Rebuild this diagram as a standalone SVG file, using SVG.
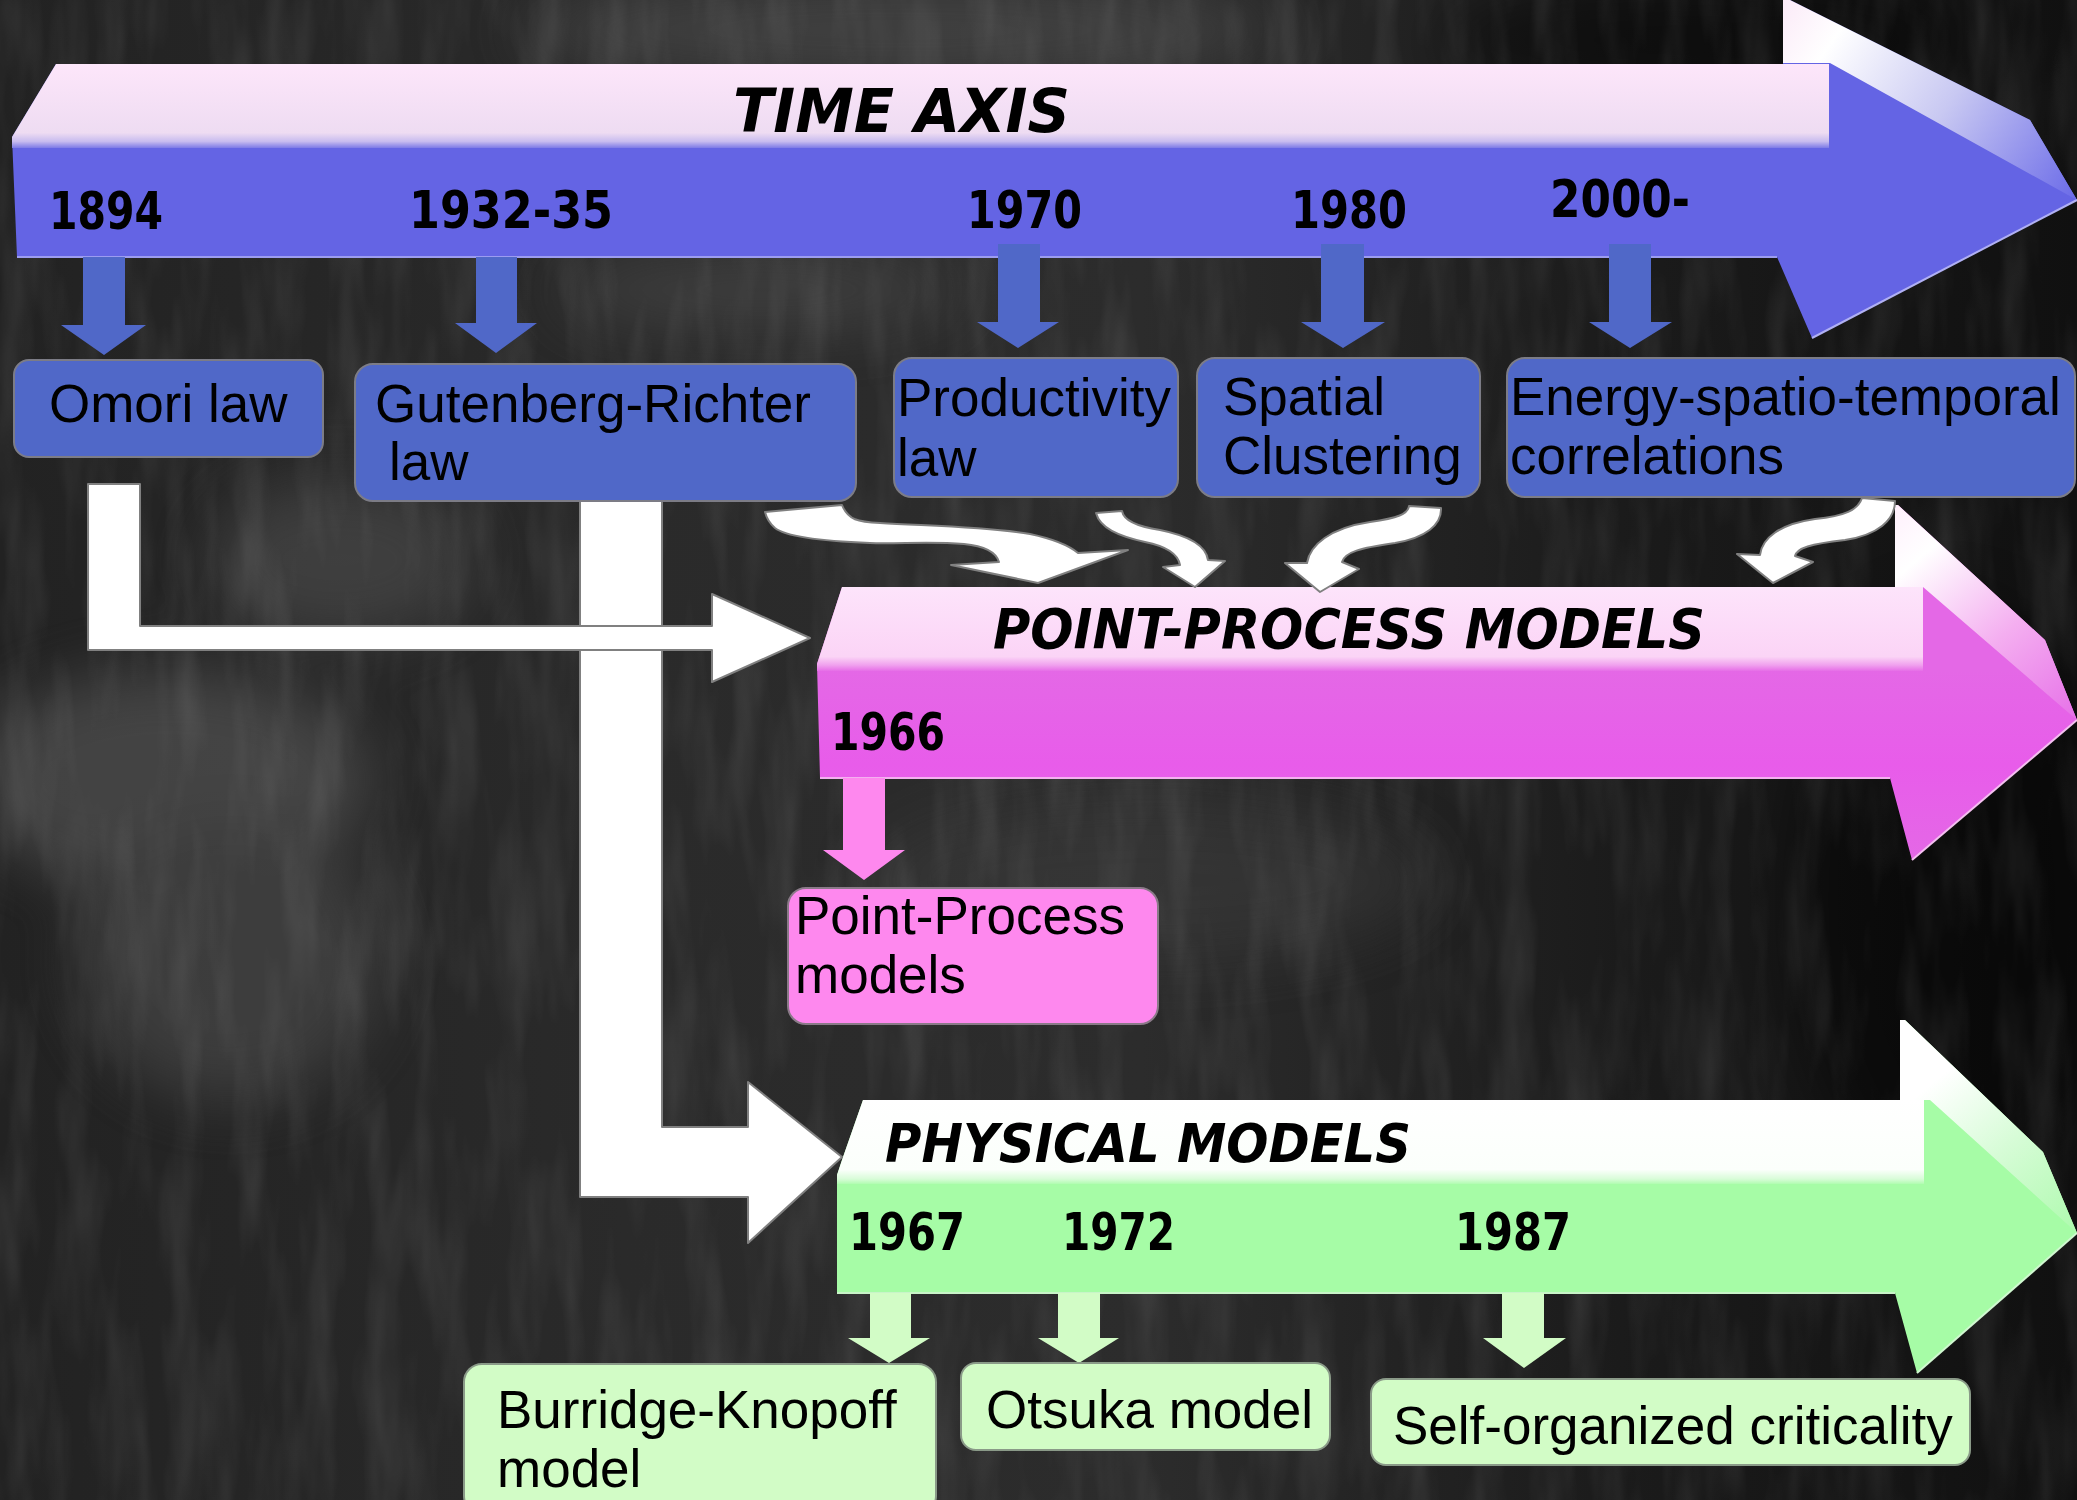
<svg xmlns="http://www.w3.org/2000/svg" width="2077" height="1500" viewBox="0 0 2077 1500">
<defs>
<style>
.yr{font-family:"DejaVu Sans Condensed","DejaVu Sans",sans-serif;font-weight:bold;font-size:52px;fill:#000}
.ttl{font-family:"DejaVu Sans",sans-serif;font-weight:bold;font-style:italic;fill:#000}
.bx{font-family:"Liberation Sans",Arial,sans-serif;font-size:53px;fill:#000}
.blueBox{fill:#5068c8;stroke:#7c7c86;stroke-width:2}
.pinkBox{fill:#fe88ee;stroke:#8a7a88;stroke-width:2}
.greenBox{fill:#d2fcc6;stroke:#8a9a88;stroke-width:2}
.blueArr{fill:#5068c8}
.pinkArr{fill:#fe88ee}
.greenArr{fill:#d2fcc6}
.white{fill:#fff;stroke:#808080;stroke-width:2;stroke-linejoin:round}
.edge{fill:none;stroke-width:2}
</style>
<linearGradient id="bg" x1="0" y1="0" x2="1" y2="0">
<stop offset="0" stop-color="#222"/>
<stop offset="0.3" stop-color="#2a2a2a"/>
<stop offset="0.55" stop-color="#2c2c2c"/>
<stop offset="0.78" stop-color="#1b1b1b"/>
<stop offset="1" stop-color="#101010"/>
</linearGradient>
<filter id="blur" x="-50%" y="-50%" width="200%" height="200%"><feGaussianBlur stdDeviation="30"/></filter>
<filter id="noise" x="0" y="0" width="100%" height="100%">
<feTurbulence type="fractalNoise" baseFrequency="0.03 0.006" numOctaves="3" seed="7"/>
<feColorMatrix type="matrix" values="0 0 0 0 0.7  0 0 0 0 0.7  0 0 0 0 0.7  1.2 0 0 0 -0.5"/>
</filter>
<linearGradient id="taTop" gradientUnits="userSpaceOnUse" x1="0" y1="64" x2="0" y2="150">
<stop offset="0" stop-color="#fde6fa"/>
<stop offset="0.8" stop-color="#eedcf2"/>
<stop offset="0.9" stop-color="#c8bcef"/>
<stop offset="1" stop-color="#6666e4"/>
</linearGradient>
<linearGradient id="taBevel" gradientUnits="userSpaceOnUse" x1="1783" y1="0" x2="2077" y2="200">
<stop offset="0" stop-color="#fbeaf8"/>
<stop offset="0.18" stop-color="#ffffff"/>
<stop offset="0.55" stop-color="#c8c8f2"/>
<stop offset="1" stop-color="#6a6ae8"/>
</linearGradient>
<linearGradient id="ppTop" gradientUnits="userSpaceOnUse" x1="0" y1="587" x2="0" y2="672">
<stop offset="0" stop-color="#fde4fb"/>
<stop offset="0.82" stop-color="#fbd4f6"/>
<stop offset="0.92" stop-color="#f0a0ee"/>
<stop offset="1" stop-color="#e466e6"/>
</linearGradient>
<linearGradient id="ppFront" gradientUnits="userSpaceOnUse" x1="0" y1="670" x2="0" y2="860">
<stop offset="0" stop-color="#e468e6"/>
<stop offset="0.5" stop-color="#e85cea"/>
<stop offset="1" stop-color="#e468e6"/>
</linearGradient>
<linearGradient id="ppBevel" gradientUnits="userSpaceOnUse" x1="1895" y1="505" x2="2077" y2="720">
<stop offset="0" stop-color="#fff0fc"/>
<stop offset="0.2" stop-color="#ffffff"/>
<stop offset="0.6" stop-color="#f4aef0"/>
<stop offset="1" stop-color="#e670e8"/>
</linearGradient>
<linearGradient id="phTop" gradientUnits="userSpaceOnUse" x1="0" y1="1100" x2="0" y2="1185">
<stop offset="0" stop-color="#ffffff"/>
<stop offset="0.82" stop-color="#fbfffb"/>
<stop offset="0.93" stop-color="#d8fcd8"/>
<stop offset="1" stop-color="#a8fca8"/>
</linearGradient>
<linearGradient id="phBevel" gradientUnits="userSpaceOnUse" x1="1900" y1="1020" x2="2077" y2="1233">
<stop offset="0" stop-color="#ffffff"/>
<stop offset="0.25" stop-color="#ffffff"/>
<stop offset="0.6" stop-color="#d6fcd6"/>
<stop offset="1" stop-color="#aefaae"/>
</linearGradient>
</defs>

<g id="background">
<rect x="0" y="0" width="2077" height="1500" fill="url(#bg)"/>
<g filter="url(#blur)" opacity="0.45">
<ellipse cx="170" cy="780" rx="200" ry="110" fill="#6a6a6a"/>
<ellipse cx="230" cy="960" rx="150" ry="140" fill="#5a5a5a"/>
<ellipse cx="340" cy="560" rx="130" ry="80" fill="#5c5c5c"/>
<ellipse cx="900" cy="30" rx="380" ry="50" fill="#5a5a5a"/>
<ellipse cx="1150" cy="880" rx="280" ry="80" fill="#404040"/>
<ellipse cx="760" cy="290" rx="200" ry="40" fill="#555"/>
<ellipse cx="1700" cy="40" rx="260" ry="60" fill="#000"/>
<ellipse cx="1950" cy="900" rx="160" ry="300" fill="#000"/>
</g>
<rect x="0" y="0" width="2077" height="1500" filter="url(#noise)" opacity="0.18"/>
</g>

<g id="time-axis">
<polygon points="56,64 1783,64 1783,0 1790,0 2030,120 2077,200 1812,338 1777,257 17,257 12,137" fill="#6464e4"/>
<polygon points="56,64 1829,64 1829,148 12,148 12,137" fill="url(#taTop)"/>
<polygon points="1783,0 1790,0 2030,120 2077,200 1830,63 1783,63" fill="url(#taBevel)"/>
<polyline class="edge" points="17,257 1777,257" stroke="#9c9cf0"/>
<polyline class="edge" points="1812,338 2077,200" stroke="#b0b0f4" stroke-width="1.5"/>
<text class="ttl" x="733" y="132" font-size="60" textLength="337" lengthAdjust="spacingAndGlyphs">TIME AXIS</text>
<text class="yr" x="49" y="229" textLength="114" lengthAdjust="spacingAndGlyphs">1894</text>
<text class="yr" x="409" y="228" textLength="204" lengthAdjust="spacingAndGlyphs">1932-35</text>
<text class="yr" x="967" y="228" textLength="115" lengthAdjust="spacingAndGlyphs">1970</text>
<text class="yr" x="1291" y="228" textLength="116" lengthAdjust="spacingAndGlyphs">1980</text>
<text class="yr" x="1550" y="217" textLength="140" lengthAdjust="spacingAndGlyphs">2000-</text>
</g>

<g id="point-process-band">
<polygon points="842,587 1895,587 1898,505 2045,640 2077,720 1912,860 1890,778 820,778 817,664" fill="url(#ppFront)"/>
<polygon points="842,587 1923,587 1923,671 817,671 817,664" fill="url(#ppTop)"/>
<polygon points="1895,505 1898,505 2045,640 2077,720 1923,587 1895,587" fill="url(#ppBevel)"/>
<polyline class="edge" points="820,778 1890,778" stroke="#f4b0f0"/>
<polyline class="edge" points="1912,860 2077,720" stroke="#f4c0f0" stroke-width="1.5"/>
<text class="ttl" x="993" y="648" font-size="56" textLength="712" lengthAdjust="spacingAndGlyphs">POINT-PROCESS MODELS</text>
<text class="yr" x="831" y="750" textLength="114" lengthAdjust="spacingAndGlyphs">1966</text>
</g>

<g id="physical-band">
<polygon points="863,1100 1900,1100 1905,1020 2043,1152 2077,1233 1917,1373 1895,1293 837,1293 837,1175 842,1160" fill="#a6fca6"/>
<polygon points="863,1100 1924,1100 1924,1184 837,1184 837,1175 842,1160" fill="url(#phTop)"/>
<polygon points="1900,1020 1905,1020 2043,1152 2077,1233 1930,1100 1900,1100" fill="url(#phBevel)"/>
<polyline class="edge" points="837,1293 1895,1293" stroke="#c8f4c8"/>
<polyline class="edge" points="1917,1373 2077,1233" stroke="#d0f8d0" stroke-width="1.5"/>
<text class="ttl" x="885" y="1162" font-size="54" textLength="526" lengthAdjust="spacingAndGlyphs">PHYSICAL MODELS</text>
<text class="yr" x="849" y="1250" textLength="116" lengthAdjust="spacingAndGlyphs">1967</text>
<text class="yr" x="1062" y="1250" textLength="113" lengthAdjust="spacingAndGlyphs">1972</text>
<text class="yr" x="1455" y="1250" textLength="116" lengthAdjust="spacingAndGlyphs">1987</text>
</g>

<g id="connectors">
<polygon class="blueArr" points="83,257 125,257 125,325 146,325 104,355 61,325 83,325"/>
<polygon class="blueArr" points="476,257 517,257 517,323 537,323 496,353 455,323 476,323"/>
<polygon class="blueArr" points="998,244 1040,244 1040,322 1059,322 1018,348 977,322 998,322"/>
<polygon class="blueArr" points="1321,244 1364,244 1364,322 1385,322 1343,348 1301,322 1321,322"/>
<polygon class="blueArr" points="1609,244 1651,244 1651,322 1672,322 1630,348 1589,322 1609,322"/>
<polygon class="pinkArr" points="843,778 885,778 885,850 905,850 864,880 823,850 843,850"/>
<polygon class="greenArr" points="870,1293 911,1293 911,1338 930,1338 889,1363 848,1338 870,1338"/>
<polygon class="greenArr" points="1058,1293 1100,1293 1100,1338 1119,1338 1079,1363 1038,1338 1058,1338"/>
<polygon class="greenArr" points="1502,1293 1544,1293 1544,1338 1566,1338 1524,1368 1483,1338 1502,1338"/>
<polygon class="white" points="580,500 662,500 662,1127 748,1127 748,1082 842,1157 748,1243 748,1197 580,1197"/>
<polygon class="white" points="88,484 140,484 140,626 712,626 712,594 810,638 712,682 712,650 88,650"/>
<path class="white" d="M765,512 L842,505 C848,520 858,522 880,523 C930,526 990,527 1030,534 C1058,540 1072,548 1078,553 L1128,550 L1038,583 L951,565 L999,562 C996,552 985,546 964,544 C930,541 900,544 870,543 C820,541 785,536 775,528 C768,522 766,516 765,512 Z"/>
<path class="white" d="M1096,513 L1122,511 C1124,522 1140,527 1160,530 C1190,536 1206,546 1208,560 L1225,561 L1195,587 L1163,567 L1180,565 C1178,554 1165,546 1145,542 C1118,536 1100,528 1096,513 Z"/>
<path class="white" d="M1409,506 L1441,508 C1442,525 1425,538 1395,543 C1360,548 1345,552 1342,562 L1359,569 L1320,592 L1285,563 L1307,563 C1310,545 1330,528 1370,522 C1398,518 1408,514 1409,506 Z"/>
<path class="white" d="M1862,498 L1895,501 C1895,520 1878,535 1845,540 C1810,544 1797,548 1795,556 L1813,562 L1773,583 L1737,554 L1760,555 C1762,538 1780,524 1815,519 C1845,516 1858,510 1862,498 Z"/>
</g>

<g id="omori-law">
<rect class="blueBox" x="14" y="360" width="309" height="97" rx="15"/>
<text class="bx" x="49" y="422">Omori law</text>
</g>
<g id="gutenberg-richter-law">
<rect class="blueBox" x="355" y="364" width="501" height="137" rx="18"/>
<text class="bx" x="375" y="422">Gutenberg-Richter</text>
<text class="bx" x="389" y="480">law</text>
</g>
<g id="productivity-law">
<rect class="blueBox" x="894" y="358" width="284" height="139" rx="18"/>
<text class="bx" x="897" y="416">Productivity</text>
<text class="bx" x="897" y="476">law</text>
</g>
<g id="spatial-clustering">
<rect class="blueBox" x="1197" y="358" width="283" height="139" rx="18"/>
<text class="bx" x="1223" y="415">Spatial</text>
<text class="bx" x="1223" y="474">Clustering</text>
</g>
<g id="energy-spatio-temporal">
<rect class="blueBox" x="1507" y="358" width="568" height="139" rx="18"/>
<text class="bx" x="1510" y="415">Energy-spatio-temporal</text>
<text class="bx" x="1510" y="474">correlations</text>
</g>
<g id="point-process-models">
<rect class="pinkBox" x="788" y="888" width="370" height="136" rx="18"/>
<text class="bx" x="795" y="934">Point-Process</text>
<text class="bx" x="795" y="993">models</text>
</g>
<g id="burridge-knopoff">
<rect class="greenBox" x="464" y="1364" width="472" height="150" rx="18"/>
<text class="bx" x="497" y="1428">Burridge-Knopoff</text>
<text class="bx" x="497" y="1487">model</text>
</g>
<g id="otsuka-model">
<rect class="greenBox" x="961" y="1363" width="369" height="87" rx="15"/>
<text class="bx" x="986" y="1428">Otsuka model</text>
</g>
<g id="self-organized-criticality">
<rect class="greenBox" x="1371" y="1379" width="599" height="86" rx="15"/>
<text class="bx" x="1393" y="1444">Self-organized criticality</text>
</g>
</svg>
